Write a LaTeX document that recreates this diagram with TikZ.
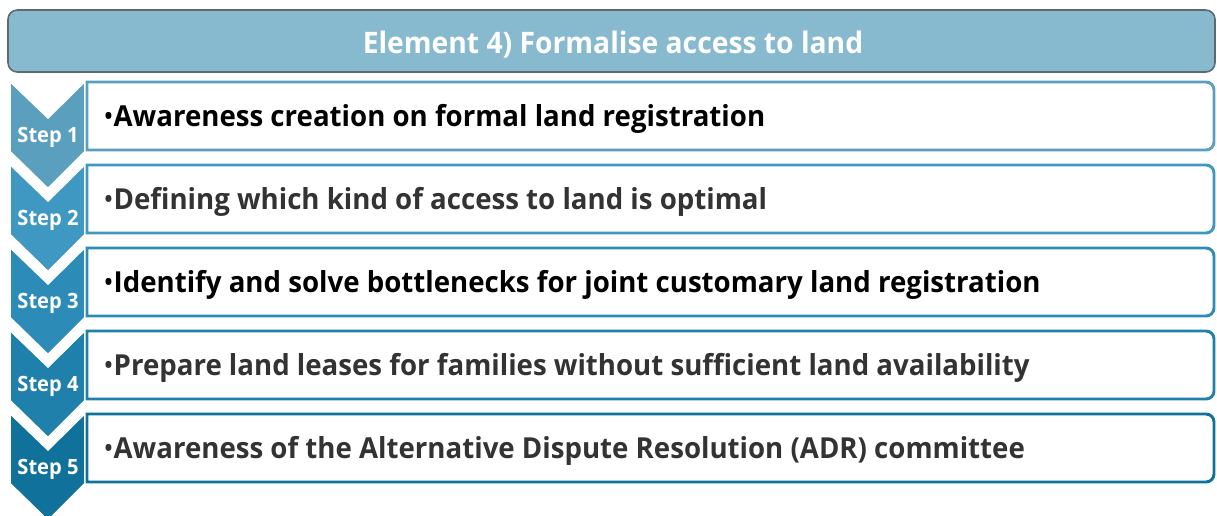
\documentclass[tikz,border=0pt]{standalone}
\usepackage{fontspec}
\setmainfont{Open Sans}[FakeStretch=0.955]
\definecolor{headfill}{HTML}{87B9CF}
\definecolor{headline}{HTML}{5E6A6F}
\definecolor{cA}{HTML}{5B9FBE}
\definecolor{cB}{HTML}{3F98C1}
\definecolor{cC}{HTML}{2C8CB7}
\definecolor{cD}{HTML}{1E80AB}
\definecolor{cE}{HTML}{10719B}
\definecolor{darktext}{HTML}{333333}
\newcommand{\itembullet}{{\mdseries •}}
\tikzset{
  headbox/.style={fill=headfill, draw=headline, line width=1.2pt, rounded corners=7pt},
  headtext/.style={text=white, font=\fontsize{22.2}{26}\selectfont\bfseries, inner sep=0pt},
  chevron/.style={draw=white, line width=2.2pt, line join=miter},
  itembox/.style={draw=#1, line width=2.2pt, fill=white},
  steptext/.style={text=white, font=\fontsize{15.8}{18}\selectfont\bfseries, inner sep=0pt},
  itemtext/.style={text=#1, font=\fontsize{21.7}{26}\selectfont\bfseries, inner sep=0pt},
}
\begin{document}
\begin{tikzpicture}[x=0.75pt,y=-0.75pt]
\useasboundingbox (0,0) rectangle (1217,515);
% header bar
\draw[headbox] (8,10) rectangle (1215,72);
\node[headtext, anchor=base] (head) at (613,53) {Element 4) Formalise access to land};
% chevrons, each sitting in the notch of the one below
\foreach \k/\c in {1/cA,2/cB,3/cC,4/cD,5/cE}{
  \pgfmathsetmacro{\t}{80+83*(\k-1)}
  \fill[\c] (9.5,\t) -- (48,\t+37) -- (85.5,\t) -- (85.5,\t+72) -- (48,\t+109.5) -- (9.5,\t+72) -- cycle;
  \draw[chevron] (9.5,\t) -- (48,\t+37) -- (85.5,\t) -- (85.5,\t+72) -- (48,\t+109.5) -- (9.5,\t+72) -- cycle;
  \node[steptext, anchor=base] (step\k) at (48,\t+62) {Step \k};
}
% item boxes, rounded on the right side only
\foreach \k/\c in {1/cA,2/cB,3/cC,4/cD,5/cE}{
  \pgfmathsetmacro{\t}{82+83*(\k-1)}
  \pgfmathsetmacro{\b}{\t+68}
  \draw[itembox=\c] (87,\t) -- (1206,\t) arc[start angle=90,end angle=0,radius=6pt]
     -- (1214,\b-8) arc[start angle=0,end angle=-90,radius=6pt] -- (87,\b) -- cycle;
}
\node[itemtext=black, anchor=base west] (item1) at (103,126.5) {\itembullet Awareness creation on formal land registration};
\node[itemtext=darktext, anchor=base west] (item2) at (103,209.5) {\itembullet Defining which kind of access to land is optimal};
\node[itemtext=black, anchor=base west] (item3) at (103,292.5) {\itembullet Identify and solve bottlenecks for joint customary land registration};
\node[itemtext=darktext, anchor=base west] (item4) at (103,375.5) {\itembullet Prepare land leases for families without sufficient land availability};
\node[itemtext=darktext, anchor=base west] (item5) at (103,458.5) {\itembullet Awareness of the Alternative Dispute Resolution (ADR) committee};
\end{tikzpicture}
\end{document}
